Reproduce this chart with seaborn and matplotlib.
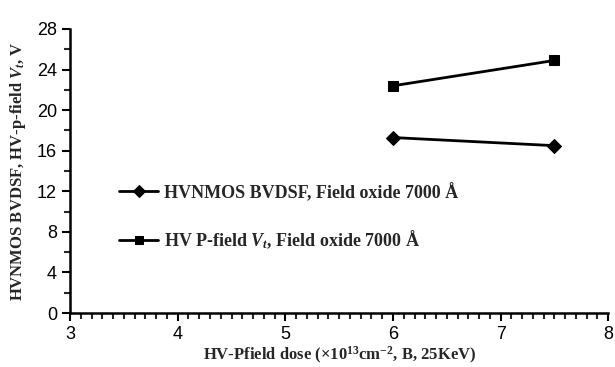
import matplotlib
matplotlib.use("Agg")
import matplotlib.pyplot as plt
import seaborn as sns
import pandas as pd
from matplotlib.ticker import MultipleLocator

dose = [6.0, 7.5]
bvdsf = [17.3, 16.5]
pfield_vt = [22.4, 24.9]
label_bv = "HVNMOS BVDSF, Field oxide 7000 Å"
label_vt = r"HV P-field $V_t$, Field oxide 7000 Å"

df = pd.DataFrame({
    "dose": dose + dose,
    "value": bvdsf + pfield_vt,
    "series": [label_bv] * len(dose) + [label_vt] * len(dose),
})

sns.set_style("ticks")
plt.rcParams['font.family'] = ['Liberation Sans', 'DejaVu Sans']
plt.rcParams['mathtext.fontset'] = 'custom'
plt.rcParams['mathtext.rm'] = 'Liberation Serif:bold'
plt.rcParams['mathtext.it'] = 'Liberation Serif:italic:bold'
plt.rcParams['mathtext.bf'] = 'Liberation Serif:bold'

fig = plt.figure(figsize=(6.15, 3.67), dpi=100)
ax = fig.add_axes([0.114, 0.147, 0.875, 0.774])

sns.lineplot(data=df, x="dose", y="value", hue="series", style="series",
             palette=["black", "black"], markers=["D", "s"], dashes=False,
             linewidth=2, markersize=7, markeredgecolor="black", ax=ax, legend=True)

ax.set_xlim(3, 8)
ax.set_ylim(0, 28)
ax.xaxis.set_major_locator(MultipleLocator(1))
ax.xaxis.set_minor_locator(MultipleLocator(0.1))
ax.yaxis.set_major_locator(MultipleLocator(4))
ax.yaxis.set_minor_locator(MultipleLocator(2))
ax.tick_params(axis="both", which="major", direction="out", length=6, width=1.5,
               labelsize=13, colors="black")
ax.tick_params(axis="both", which="minor", direction="out", length=4, width=1.5)
for s in ["left", "bottom"]:
    ax.spines[s].set_linewidth(1.8)
    ax.spines[s].set_color("black")
sns.despine(ax=ax)

serif = ['Liberation Serif', 'DejaVu Serif']
ax.set_xlabel(r"HV-Pfield dose ($\times$10$^{13}$cm$^{-2}$, B, 25KeV)",
              family=serif, fontweight="bold", fontsize=12, labelpad=1)
ax.set_ylabel(r"HVNMOS BVDSF, HV-p-field $V_t$, V",
              family=serif, fontweight="bold", fontsize=12, labelpad=6)

handles, labels = ax.get_legend_handles_labels()
for h in handles:
    h.set_markersize(6)
leg = ax.legend(handles, labels, loc="upper left", bbox_to_anchor=(0.06, 0.515),
                frameon=False, handlelength=2.2, handletextpad=0.3,
                labelspacing=1.5, prop={'family': serif, 'weight': 'bold', 'size': 13})

fig.savefig("out.png", dpi=100)
